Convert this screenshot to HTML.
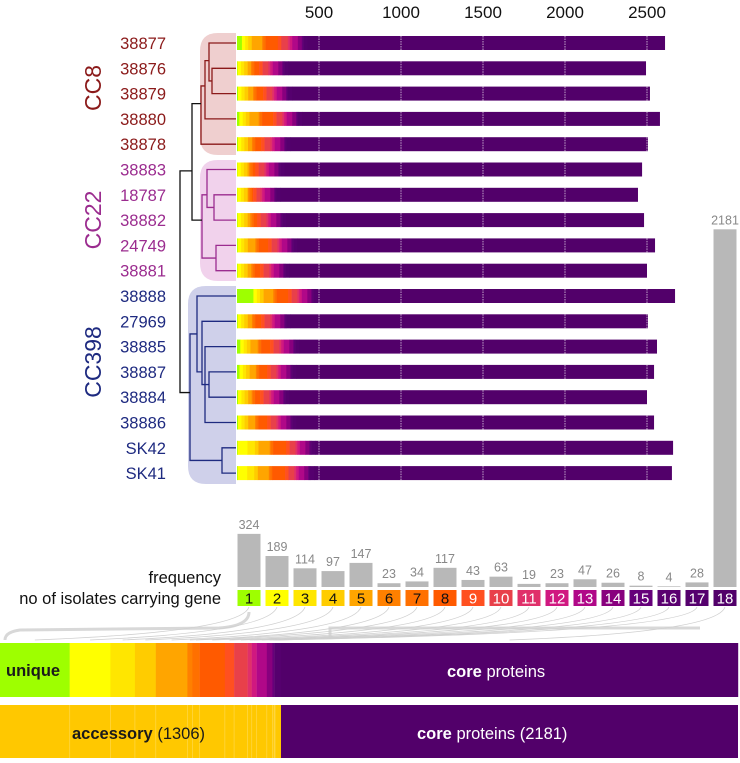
<!DOCTYPE html>
<html><head><meta charset="utf-8"><style>
body{margin:0;background:#fff;width:740px;height:763px;overflow:hidden}
svg{display:block;font-family:"Liberation Sans",sans-serif}
</style></head><body>
<svg id="c" width="740" height="763" viewBox="0 0 740 763">
<g id="bg"></g><g id="dendro"></g><g id="rows"></g><g id="freq"></g><g id="bottom"></g>
</svg>
<script>
const isolates=["38877","38876","38879","38880","38878","38883","18787","38882","24749","38881","38888","27969","38885","38887","38884","38886","SK42","SK41"];
const groupOf=[0,0,0,0,0,1,1,1,1,1,2,2,2,2,2,2,2,2];
const groupNames=["CC8","CC22","CC398"];
const groupColors=["#8b1a1a","#9b2c8f","#1e2a80"];
const axisTicks=[500,1000,1500,2000,2500];
const coreCount=2181;
// per-isolate gene counts in categories 1..17 (no. of isolates carrying gene)
const rowCounts=[
[30,20,18,22,63,8,13,75,21,40,12,15,34,24,7,4,23],
[3,21,19,22,20,8,13,29,21,35,12,15,34,24,7,4,26],
[6,21,19,22,30,8,13,40,21,35,12,15,34,24,7,4,26],
[14,21,19,22,56,8,13,67,21,35,12,15,34,24,7,4,26],
[5,21,19,22,24,8,13,35,21,35,12,15,34,24,7,4,26],
[2,21,19,22,10,8,13,16,21,35,12,15,34,24,7,4,26],
[2,21,19,22,5,8,13,8,21,23,12,15,34,24,7,4,26],
[3,21,19,22,16,8,13,21,21,35,12,15,34,24,7,4,26],
[4,21,19,22,46,8,13,57,21,35,12,15,34,24,7,4,26],
[3,21,19,22,22,8,13,33,21,35,12,15,34,24,7,4,26],
[100,21,19,22,59,8,13,70,21,35,12,15,34,24,7,4,26],
[4,21,19,22,25,8,13,35,21,35,12,15,34,24,7,4,26],
[20,21,19,22,44,8,13,55,21,35,12,15,34,24,7,4,26],
[15,21,19,22,38,8,13,48,21,35,12,15,34,24,7,4,26],
[6,21,19,22,21,8,13,31,21,35,12,15,34,24,7,4,26],
[6,21,19,22,42,8,13,53,21,35,12,15,34,24,7,4,26],
[4,60,45,22,68,8,13,80,21,35,12,15,34,24,7,4,26],
[4,58,43,22,67,8,13,78,21,35,12,15,34,24,7,4,26]];
const freqCats=[1,2,3,4,5,6,7,8,9,10,11,12,13,14,15,16,17,18];
const freqValues=[324,189,114,97,147,23,34,117,43,63,19,23,47,26,8,4,28,2181];
const catColors=["#9eff00","#ffff00","#ffe600","#ffcc00","#ffa500","#ff8000","#ff7000","#ff5a00","#ff5020","#e8404a","#e0306a","#d01880","#b00888","#88007e","#66007a","#5a0070","#55006e","#52006a"];

const NS="http://www.w3.org/2000/svg";
function mk(t,a,p){const e=document.createElementNS(NS,t);for(const k in a)e.setAttribute(k,a[k]);p.appendChild(e);return e;}
const X0=237,SC=0.164;
const xs=v=>X0+v*SC;
const rowY=i=>43+i*25.3;
const G={bg:document.getElementById('bg'),d:document.getElementById('dendro'),r:document.getElementById('rows'),f:document.getElementById('freq'),b:document.getElementById('bottom')};

const shades=[[200,33,155,"#efcfcf"],[200,160,281,"#f1d2ec"],[188,286,484,"#cfd0ea"]];
shades.forEach((s,i)=>{const p=mk('path',{d:`M236,${s[1]} L${s[0]+18},${s[1]} Q${s[0]},${s[1]} ${s[0]},${s[1]+18} L${s[0]},${s[2]-18} Q${s[0]},${s[2]} ${s[0]+18},${s[2]} L236,${s[2]} Z`,fill:s[3]},G.bg);

});

axisTicks.forEach(t=>{const e=mk('text',{x:xs(t),y:18,'text-anchor':'middle','font-size':17,fill:'#111'},G.r);e.textContent=t;

});

isolates.forEach((n,i)=>{const y=rowY(i);
const lb=mk('text',{x:166,y:y+6,'text-anchor':'end','font-size':16.5,fill:groupColors[groupOf[i]]},G.r);lb.textContent=n;


const g=mk('g',{},G.r);


let c=0;rowCounts[i].forEach((v,k)=>{const r=mk('rect',{x:xs(c),y:y-7,width:Math.max(v*SC,0.01)+0.3,height:14,fill:catColors[k]},g);

c+=v;});
const r=mk('rect',{x:xs(c),y:y-7,width:coreCount*SC,height:14,fill:catColors[17]},g);


axisTicks.forEach(t=>{if(t<c+coreCount)mk('line',{x1:xs(t),x2:xs(t),y1:y-7,y2:y+7,stroke:'#fff','stroke-width':0.8,'stroke-dasharray':'1.5,1','opacity':0.8},g);});
});

[[101,88],[101,220],[101,362]].forEach((p,i)=>{const e=mk('text',{x:0,y:0,transform:`translate(${p[0]},${p[1]}) rotate(-90)`,'text-anchor':'middle','font-size':23,fill:groupColors[i]},G.r);e.textContent=groupNames[i];

});

function link(x,ya,yb,xa,xb,col){mk('path',{d:`M${xa},${ya} H${x} V${yb} H${xb}`,fill:'none',stroke:col,'stroke-width':1.3},G.d);}
const R=rowY;
const c8=groupColors[0],c22=groupColors[1],c3=groupColors[2];
link(212,R(1),R(2),236,236,c8);
link(209,R(0),(R(1)+R(2))/2,236,212,c8);
link(205,(R(0)+R(1))/2+5,R(3),209,236,c8);
link(201,(R(0)+R(3))/2+5,R(4),205,236,c8);
link(214,R(6),R(7),236,236,c22);
link(216,R(8),R(9),236,236,c22);
link(207,R(5),(R(6)+R(7))/2,236,214,c22);
link(202,(R(5)+R(7))/2,(R(8)+R(9))/2,207,216,c22);
link(209,R(13),R(14),236,236,c3);
link(205,R(12),R(15),236,236,c3);
mk('path',{d:`M205,${(R(13)+R(14))/2} H209`,stroke:c3,'stroke-width':1.3},G.d);
link(202,R(11),(R(12)+R(15))/2,236,205,c3);
link(197,R(10),(R(11)+R(15))/2,236,202,c3);
link(222,R(16),R(17),236,236,c3);
link(190,(R(10)+R(13))/2,(R(16)+R(17))/2,197,222,c3);
link(192,(R(0)+R(4))/2+10,(R(5)+R(9))/2,201,202,'#111');
link(180,(R(2)+R(7))/2+14,(R(10)+R(17))/2+8,192,190,'#111');

const fx=i=>249+i*28, fb=587;
freqValues.forEach((v,i)=>{const h=v*SC;const r=mk('rect',{x:fx(i)-11.5,y:fb-h,width:23,height:h,fill:'#b8b8b8'},G.f);


const t=mk('text',{x:fx(i),y:fb-h-5,'text-anchor':'middle','font-size':12.5,fill:'#888'},G.f);t.textContent=v;


const b=mk('rect',{x:fx(i)-11.5,y:590,width:23,height:16,fill:catColors[i]},G.f);


const bt=mk('text',{x:fx(i),y:603.5,'text-anchor':'middle','font-size':15,fill:i<8?'#111':'#fff'},G.f);bt.textContent=freqCats[i];

});
[["frequency",583],["no of isolates carrying gene",604]].forEach((s,i)=>{const t=mk('text',{x:221,y:s[1],'text-anchor':'end','font-size':16.5,fill:'#111'},G.f);t.textContent=s[0];

});

const acc=freqValues.slice(0,17).reduce((a,b)=>a+b,0);
const BA=281/acc, BC=457/coreCount;
const bw=i=>freqValues[i]*(i<17?BA:BC);
let cx=0;const conn=mk('g',{},G.b);


mk('path',{d:`M${fx(0)},612 Q${fx(0)},626 ${fx(0)-30},628 L20,630 Q5,632 5,640 M330,638 L330,628 L700,628`,fill:'none',stroke:'#d8d8d8','stroke-width':3},conn);
freqValues.forEach((v,i)=>{const w=bw(i);
mk('path',{d:`M${fx(i)},607 Q${fx(i)-8},632 ${cx+w/2},640`,fill:'none',stroke:'#cfcfcf','stroke-width':0.8},conn);
const r=mk('rect',{x:cx,y:643,width:w+0.2,height:54,fill:catColors[i]},G.b);

cx+=w;});
const a1=mk('rect',{x:0,y:705,width:acc*BA,height:53,fill:'#ffc800'},G.b);


let ax=0;freqValues.slice(0,16).forEach((v,i)=>{ax+=bw(i);mk('line',{x1:ax,x2:ax,y1:705,y2:758,stroke:'#ffd84a','stroke-width':0.7},G.b);});
const a2=mk('rect',{x:acc*BA,y:705,width:coreCount*BC,height:53,fill:catColors[17]},G.b);


function label(x,y,b,r,col,name){const t=mk('text',{x:x,y:y,'font-size':16.5,fill:col},G.b);
const s=mk('tspan',{'font-weight':'bold'},t);s.textContent=b;const s2=mk('tspan',{},t);s2.textContent=r;

}
label(6,676,"unique","","#1a1a1a","unique-label");
label(447,677,"core"," proteins","#fff","core-proteins-label");
label(72,739,"accessory"," (1306)","#1a1a1a","accessory-label");
label(417,739,"core"," proteins (2181)","#fff","core-count-label");
</script>
</body></html>
